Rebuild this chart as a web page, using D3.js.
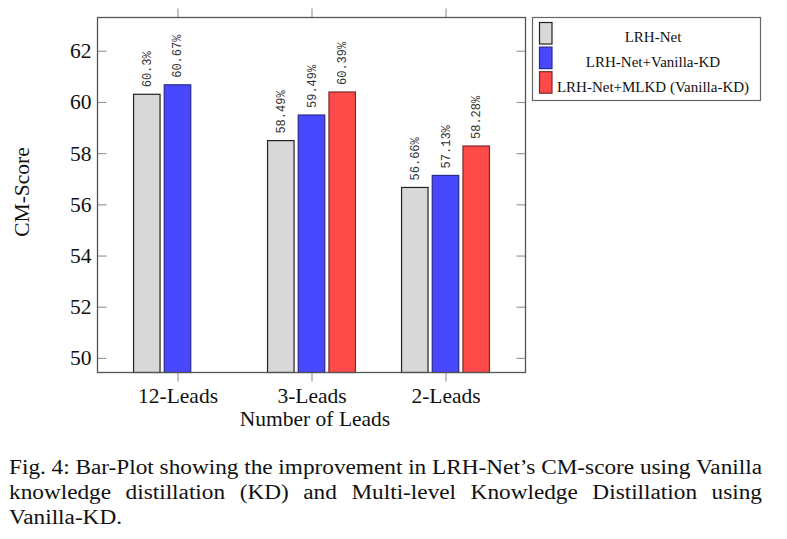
<!DOCTYPE html>
<html>
<head>
<meta charset="utf-8">
<script src="https://cdn.jsdelivr.net/npm/d3@7"></script>
<style>
  html, body { margin: 0; padding: 0; background: #fff; }
  svg { display: block; }
</style>
</head>
<body>
<svg id="chart" width="787" height="539"></svg>
<script>
// ---- data ----
const categories = ["12-Leads", "3-Leads", "2-Leads"];
const seriesNames = ["LRH-Net", "LRH-Net+Vanilla-KD", "LRH-Net+MLKD (Vanilla-KD)"];
const lrhNet = [60.3, 58.49, 56.66];
const vanillaKD = [60.67, 59.49, 57.13];
const mlkdVanillaKD = [null, 60.39, 58.28];
const yTicks = [50, 52, 54, 56, 58, 60, 62];
const yLabel = "CM-Score";
const xLabel = "Number of Leads";
const captionLines = [
  "Fig. 4: Bar-Plot showing the improvement in LRH-Net\u2019s CM-score using Vanilla",
  "knowledge distillation (KD) and Multi-level Knowledge Distillation using",
  "Vanilla-KD."
];

// ---- styles ----
const fills = ["#d8d8d8", "#4848ff", "#ff4a4a"];
const strokes = ["#222222", "#2a2a8a", "#7a2a2a"];
const serif = "'Liberation Serif', 'Times New Roman', serif";
const mono = "'Liberation Mono', 'DejaVu Sans Mono', monospace";
const axisFont = 21.5;

const seriesValues = [lrhNet, vanillaKD, mlkdVanillaKD];
const svg = d3.select("#chart");

const pL = 97.5, pR = 525.5, pT = 17.5, pB = 372.5;

const x = d3.scalePoint().domain(categories).range([pL, pR]).padding(0.597);
const inner = d3.scaleBand().domain(seriesNames).range([-43.95, 43.95]).paddingInner(0.137).paddingOuter(0);
const y = d3.scaleLinear().domain([49.43, 63.3]).range([pB, pT]);

// bars
const rows = [];
seriesNames.forEach((s, si) => {
  categories.forEach((c, ci) => {
    const v = seriesValues[si][ci];
    if (v !== null && v !== undefined) rows.push({ s, si, c, v });
  });
});

const g = svg.append("g");
g.selectAll("rect.bar").data(rows).join("rect")
  .attr("class", "bar")
  .attr("x", d => x(d.c) + inner(d.s))
  .attr("y", d => y(d.v))
  .attr("width", inner.bandwidth())
  .attr("height", d => y.range()[0] - y(d.v))
  .attr("fill", d => fills[d.si])
  .attr("stroke", d => strokes[d.si])
  .attr("stroke-width", 1.2);

// value labels (rotated)
g.selectAll("text.val").data(rows).join("text")
  .attr("class", "val")
  .attr("transform", d => `translate(${x(d.c) + inner(d.s) + inner.bandwidth() / 2 + 4},${y(d.v) - 7}) rotate(-90)`)
  .attr("font-family", mono)
  .attr("font-size", 12)
  .attr("fill", "#333")
  .attr("text-anchor", "start")
  .text(d => d.v + "%");

// axes
function styleAxis(sel) {
  sel.select(".domain").remove();
  sel.selectAll(".tick line").attr("stroke", "#9a9a9a").attr("stroke-width", 1.2);
  sel.selectAll(".tick text").attr("font-family", serif).attr("font-size", axisFont).attr("fill", "#111");
}

svg.append("g").attr("transform", `translate(${pL},0)`)
  .call(d3.axisLeft(y).tickValues(yTicks).tickSize(-9).tickPadding(6).tickFormat(d3.format("d")))
  .call(styleAxis);

svg.append("g").attr("transform", `translate(${pR},0)`)
  .call(d3.axisRight(y).tickValues(yTicks).tickSize(-9).tickFormat(""))
  .call(styleAxis);

svg.append("g").attr("transform", `translate(0,${pT})`)
  .call(d3.axisTop(x).tickSize(9).tickFormat(""))
  .call(styleAxis);

svg.append("g").attr("transform", `translate(0,${pB})`)
  .call(d3.axisBottom(x).tickSize(9).tickPadding(6))
  .call(styleAxis);

// plot frame
svg.append("rect").attr("x", pL).attr("y", pT)
  .attr("width", pR - pL).attr("height", pB - pT)
  .attr("fill", "none").attr("stroke", "#555").attr("stroke-width", 1.3);

// axis titles
svg.append("text")
  .attr("x", 315).attr("y", 426)
  .attr("text-anchor", "middle")
  .attr("font-family", serif).attr("font-size", axisFont).attr("fill", "#111")
  .text(xLabel);

svg.append("text")
  .attr("transform", `translate(29,192) rotate(-90)`)
  .attr("text-anchor", "middle")
  .attr("font-family", serif).attr("font-size", axisFont).attr("fill", "#111")
  .text(yLabel);

// legend
const lg = svg.append("g");
lg.append("rect").attr("x", 532.5).attr("y", 17.5).attr("width", 228).attr("height", 83)
  .attr("fill", "#fff").attr("stroke", "#666").attr("stroke-width", 1.2);
seriesNames.forEach((s, i) => {
  lg.append("rect").attr("x", 539.5).attr("y", 22.5 + i * 24.6)
    .attr("width", 12.5).attr("height", 21.5)
    .attr("fill", fills[i]).attr("stroke", strokes[i]).attr("stroke-width", 1.2);
  lg.append("text").attr("x", 653).attr("y", 41.5 + i * 25)
    .attr("text-anchor", "middle")
    .attr("font-family", serif).attr("font-size", 15).attr("fill", "#111")
    .text(s);
});

// caption (justified, stretched horizontally so line 1 fits at natural spacing)
const capX0 = 9, capX1 = 762, capFont = 20.5;
const probe = svg.append("text").attr("font-family", serif).attr("font-size", capFont).text(captionLines[0]);
const natural = probe.node().getComputedTextLength();
probe.remove();
const k = (capX1 - capX0) / natural;
captionLines.forEach((line, li) => {
  const words = line.split(" ");
  const baseY = 474 + li * 25;
  const justify = li < captionLines.length - 1;
  const tg = svg.append("g");
  const nodes = words.map(w => tg.append("text")
    .attr("y", baseY)
    .attr("font-family", serif).attr("font-size", capFont).attr("fill", "#111")
    .text(w));
  const widths = nodes.map(n => n.node().getComputedTextLength() * k);
  nodes.forEach((n, i) => n.attr("textLength", widths[i]).attr("lengthAdjust", "spacingAndGlyphs"));
  const total = d3.sum(widths);
  const gap = justify ? (capX1 - capX0 - total) / (words.length - 1) : capFont * 0.25 * k;
  let cx = capX0;
  nodes.forEach((n, i) => { n.attr("x", cx); cx += widths[i] + gap; });
});
</script>
</body>
</html>
